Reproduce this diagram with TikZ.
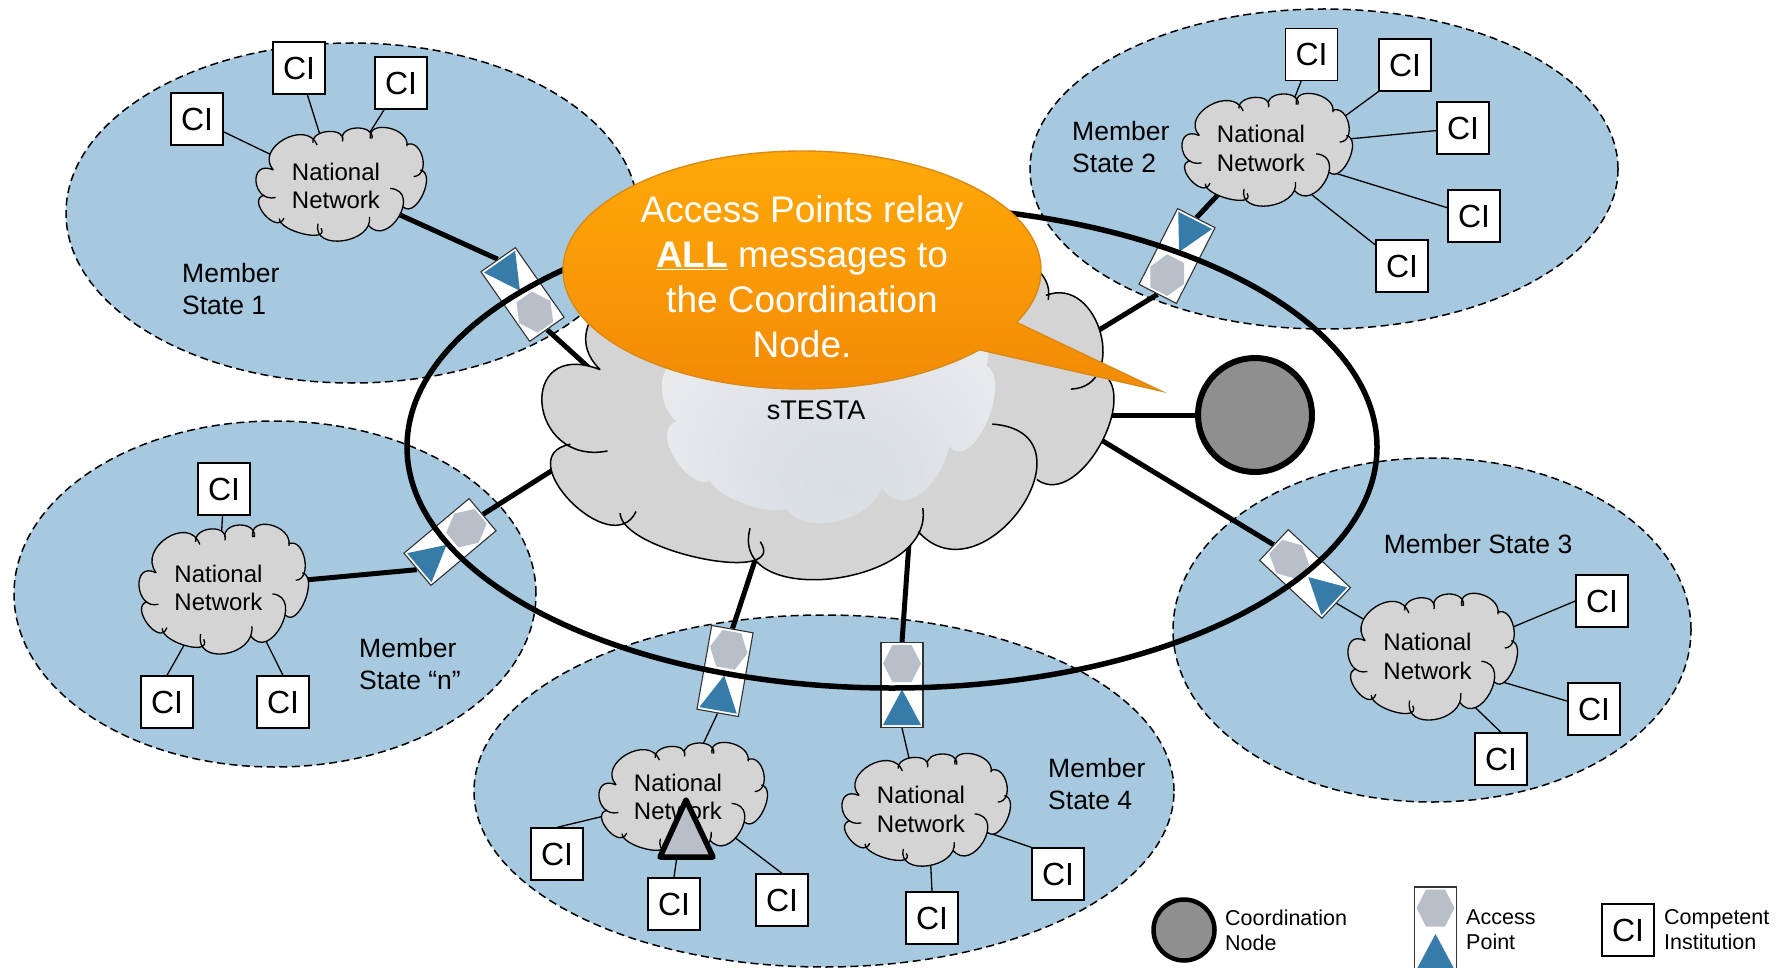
\documentclass[tikz,border=0pt]{standalone}
\usepackage{fontspec}
\setmainfont{Liberation Sans}
\usetikzlibrary{calc,shapes.geometric,shapes.callouts}
\pgfdeclarelayer{back}
\pgfdeclarelayer{conn}
\pgfsetlayers{back,conn,main}
\definecolor{msblue}{HTML}{A6C9E0}
\definecolor{cloudgray}{HTML}{D4D4D4}
\definecolor{hexgray}{HTML}{B8BFC9}
\definecolor{triblue}{HTML}{377BA8}
\definecolor{cngray}{HTML}{8F8F8F}
\pgfdeclareradialshading{glow}{\pgfpoint{2bp}{-16bp}}{rgb(0bp)=(.85,.87,.89);rgb(12bp)=(.87,.885,.905);rgb(28bp)=(.92,.93,.94);rgb(40bp)=(.945,.95,.955);rgb(50bp)=(.945,.95,.955)}
\def\lobe(#1)(#2)(#3){(#1) .. controls ($0.433*(#1)+1.333*(#2)-0.766*(#3)$) and ($0.433*(#3)+1.333*(#2)-0.766*(#1)$) .. (#3) }
\def\rlobe(#1)(#2)(#3){(#1) .. controls ($0.633*(#1)+1.333*(#2)-0.966*(#3)$) and ($0.633*(#3)+1.333*(#2)-0.966*(#1)$) .. (#3) }
\def\cloudoutline{\rlobe(11.5,61)(0,47)(10.2,36.8)\lobe(10.2,36.8)(16.4,10)(36,15)\lobe(33.5,13)(42.9,3)(50.9,11.8)\lobe(50.9,10)(59.5,0)(68.3,9.4)\lobe(67.3,9.4)(78,0)(88.8,16)\lobe(88.4,14.7)(98,26)(92.8,42.6)\lobe(96.7,36.8)(98.3,58)(86.8,69.5)\rlobe(79,53)(84,78)(66,85)\lobe(66.8,78)(51,99)(36.5,84)\lobe(38.3,88)(28,93)(13.7,79.5)\rlobe(16.5,79)(5,76)(5,59)}
\def\cloudcore{(11.5,61) -- (10.2,36.8) -- (36,15) -- (33.5,13) -- (50.9,11.8) -- (50.9,10) -- (68.3,9.4) -- (67.3,9.4) -- (88.8,16) -- (88.4,14.7) -- (92.8,42.6) -- (96.7,36.8) -- (86.8,69.5) -- (79,53) -- (66,85) -- (66.8,78) -- (36.5,84) -- (38.3,88) -- (13.7,79.5) -- (16.5,79) -- (5,59) -- cycle}
\newcommand\netcloud[7]{%
  \begin{scope}[shift={(#2,#3)},x=#4*0.01pt,y=-#5*0.01pt]
    \fill[cloudgray] \cloudoutline \cloudcore;
    \draw[line width=1.3] \cloudoutline;
  \end{scope}
  \node[nettext] (#1) at ({#2+#4/2-5+#6},{#3+#5/2+#7}) {National\\Network};
}
\newcommand\apoint[4]{%
  \node[apbox,rotate=#4] (#1) at (#2,#3) {};
  \begin{scope}[shift={(#2,#3)},rotate=#4]
    \fill[hexgray] (-19,-21.5) -- (-9.5,-40) -- (9.5,-40) -- (19,-21.5) -- (9.5,-3) -- (-9.5,-3) -- cycle;
    \fill[triblue] (0,4.5) -- (19,40) -- (-19,40) -- cycle;
  \end{scope}
}
\tikzset{
  msarea/.style={ellipse,draw=black,fill=msblue,line width=1.5,dash pattern=on 8pt off 4.5pt,inner sep=0},
  nettext/.style={align=left,inner sep=0,font=\fontsize{24}{28.4}\selectfont},
  mslabel/.style={align=left,anchor=west,inner sep=0,font=\fontsize{26.5}{32}\selectfont},
  legendlabel/.style={align=left,anchor=west,inner sep=0,font=\fontsize{21.5}{25}\selectfont},
  cibox/.style={draw=black,fill=white,line width=1.3,minimum width=52,minimum height=52,inner sep=0,font=\fontsize{32}{36}\selectfont},
  apbox/.style={draw=black!80,fill=white,line width=1.1,minimum width=42,minimum height=85,inner sep=0},
  cnode/.style={circle,draw=black,fill=cngray,inner sep=0},
  thinlink/.style={line width=1.3,draw=black},
  thicklink/.style={line width=5,draw=black},
  ring/.style={ellipse,draw=black,line width=5.5,inner sep=0,minimum width=970,minimum height=482},
  bubble/.style={ellipse callout,top color=calltop,bottom color=callbot,draw=calledge,line width=1.4,inner sep=0,minimum width=478,minimum height=238,callout pointer arc=16},
}
\definecolor{calltop}{HTML}{FFA908}
\definecolor{callbot}{HTML}{F38A06}
\definecolor{calledge}{HTML}{D98A14}
\begin{document}
\begin{tikzpicture}[x=1pt,y=-1pt]
\useasboundingbox (0,0) rectangle (1782,968);
\begin{pgfonlayer}{back}
  \fill[white] (0,0) rectangle (1782,968);
  \node[msarea,minimum width=572,minimum height=340] (ms1) at (352,213) {};
  \node[msarea,minimum width=588,minimum height=320] (ms2) at (1324,169) {};
  \node[msarea,minimum width=522,minimum height=346] (msn) at (275,594) {};
  \node[msarea,minimum width=518,minimum height=344] (ms3) at (1432,630) {};
  \node[msarea,minimum width=700,minimum height=352] (ms4) at (824,791) {};
\end{pgfonlayer}
% member state labels
\node[mslabel] (lab1) at (182,289) {Member\\State 1};
\node[mslabel] (lab2) at (1072,147) {Member\\State 2};
\node[mslabel] (labn) at (359,664) {Member\\State “n”};
\node[mslabel,anchor=center] (lab3) at (1478,544) {Member State 3};
\node[mslabel] (lab4) at (1048,784) {Member\\State 4};
% big cloud
\begin{scope}[shift={(542,246)},x=5.7pt,y=-3.36pt]
  \fill[cloudgray] \cloudoutline \cloudcore;
  \draw[line width=1.5] \cloudoutline;
\end{scope}
\begin{scope}[shift={(662,271)},x=3.32pt,y=-2.54pt]
  \shade[shading=glow] \cloudoutline \cloudcore;
\end{scope}
\node[font=\fontsize{27}{30}\selectfont,inner sep=0] (stesta) at (816,410) {sTESTA};
% national networks
\netcloud{nn1}{256}{128}{170}{114}{0}{1}
\netcloud{nn2}{1182}{94}{170}{113}{-1}{-2}
\netcloud{nnn}{139}{525}{169}{130}{0}{-2}
\netcloud{nn3}{1348}{594}{169}{127}{0}{-1}
\netcloud{nna}{599}{743}{168}{114}{0}{-3}
\netcloud{nnb}{842}{754}{168}{113}{0}{-1}
% competent institutions
\node[cibox] (c1a) at (299,68) {CI};
\node[cibox] (c1b) at (401,83) {CI};
\node[cibox] (c1c) at (197,119) {CI};
\node[cibox] (c2a) at (1311.5,54.5) {CI};
\node[cibox] (c2b) at (1405,65) {CI};
\node[cibox] (c2c) at (1463,128) {CI};
\node[cibox] (c2d) at (1474,216) {CI};
\node[cibox] (c2e) at (1402,266) {CI};
\node[cibox] (c3a) at (1602,601) {CI};
\node[cibox] (c3b) at (1594,709) {CI};
\node[cibox] (c3c) at (1501,759) {CI};
\node[cibox] (cna) at (224,489) {CI};
\node[cibox] (cnb) at (167,702) {CI};
\node[cibox] (cnc) at (283,702) {CI};
\node[cibox] (c4a) at (557,854) {CI};
\node[cibox] (c4b) at (674,904) {CI};
\node[cibox] (c4c) at (782,900) {CI};
\node[cibox] (c4d) at (1058,874) {CI};
\node[cibox] (c4e) at (932,918) {CI};
% access points
\apoint{ap1}{522.5}{294.5}{-145}
\apoint{ap2}{1177}{256}{153}
\apoint{apn}{450}{542}{-50}
\apoint{ap3}{1305}{574}{47}
\apoint{apa}{725}{671}{-10}
\apoint{apb}{902}{685}{0}
% coordination node
\node[cnode,line width=6,minimum size=114] (cn) at (1255,415) {};
% inner ends of connectors
\coordinate (t2a) at (1284,125);
\coordinate (t2b) at (1307,144);
\coordinate (t2c) at (1307,143);
\coordinate (t2d) at (1296,161);
\coordinate (t2e) at (1307,191);
\coordinate (t3a) at (1477,642);
\coordinate (t3b) at (1455,668);
\coordinate (t3c) at (1455,688);
\coordinate (tnb) at (205,608);
\coordinate (tnc) at (244,597);
\coordinate (t4a) at (650,805);
\coordinate (t4b) at (682,820);
\coordinate (t4c) at (700,811);
\coordinate (t4d) at (960,823);
\coordinate (t4e) at (930,850);
\coordinate (b1) at (620,396);
\coordinate (b2) at (1050,360);
\coordinate (bn) at (600,440);
\coordinate (b3) at (1060,415);
\coordinate (bc) at (1060,415);
\coordinate (ba) at (770,515);
\coordinate (bb) at (912,500);
\begin{pgfonlayer}{conn}
  \draw[thinlink] (c1a.center) -- (nn1.center);
  \draw[thinlink] (c1b.center) -- (nn1.center);
  \draw[thinlink] (c1c.center) -- (nn1.center);
  \draw[thinlink] (c2a.center) -- (t2a);
  \draw[thinlink] (c2b.south west) -- (t2b);
  \draw[thinlink] (c2c.center) -- (t2c);
  \draw[thinlink] (c2d.center) -- (t2d);
  \draw[thinlink] (c2e.center) -- (t2e);
  \draw[thinlink] (c3a.west) -- (t3a);
  \draw[thinlink] (c3b.center) -- (t3b);
  \draw[thinlink] (c3c.north) -- (t3c);
  \draw[thinlink] (cna.center) -- (nnn.center);
  \draw[thinlink] (cnb.north) -- (tnb);
  \draw[thinlink] (cnc.north) -- (tnc);
  \draw[thinlink] (c4a.north) -- (t4a);
  \draw[thinlink] (c4b.north) -- (t4b);
  \draw[thinlink] (c4c.north) -- (t4c);
  \draw[thinlink] (c4d.north west) -- (t4d);
  \draw[thinlink] (c4e.north) -- (t4e);
  \draw[thinlink] (ap3.south) -- (nn3.center);
  \draw[thinlink] (apa.south) -- (nna.center);
  \draw[thinlink] (apb.south) -- (nnb.center);
  \draw[thicklink] (ap1.south) -- (nn1.center);
  \draw[thicklink] (ap2.south) -- (nn2.center);
  \draw[thicklink] (apn.south) -- (nnn.center);
  \draw[thicklink] (ap1.north) -- (b1);
  \draw[thicklink] (ap2.north) -- (b2);
  \draw[thicklink] (apn.north) -- (bn);
  \draw[thicklink] (ap3.north) -- (b3);
  \draw[thicklink] (apa.north) -- (ba);
  \draw[thicklink] (apb.north) -- (bb);
  \draw[thicklink] (bc) -- (cn.center);
\end{pgfonlayer}
% overall ring
\node[ring] (ringnode) at (892,447) {};
% callout
\node[bubble,callout absolute pointer={(1161,391)}] (bubble) at (802,270) {};
\node[align=center,text=white,inner sep=0,font=\fontsize{37}{45}\selectfont] (bubbletext) at (802,277) {Access Points relay\\\underline{\textbf{ALL}} messages to\\the Coordination\\Node.};
% warning triangle
\draw[line width=5.5,line join=round,draw=black,fill=hexgray] (686,800) -- (713,857) -- (660,857) -- cycle;
% legend
\node[cnode,line width=4.5,minimum size=61] (lcn) at (1184,930) {};
\node[legendlabel] (lcnt) at (1225,930) {Coordination\\Node};
\apoint{lap}{1435.5}{929.5}{0}
\node[legendlabel] (lapt) at (1466,930) {Access\\Point};
\node[cibox] (lci) at (1628,930) {CI};
\node[legendlabel] (lcit) at (1664,930) {Competent\\Institution};
\end{tikzpicture}
\end{document}
